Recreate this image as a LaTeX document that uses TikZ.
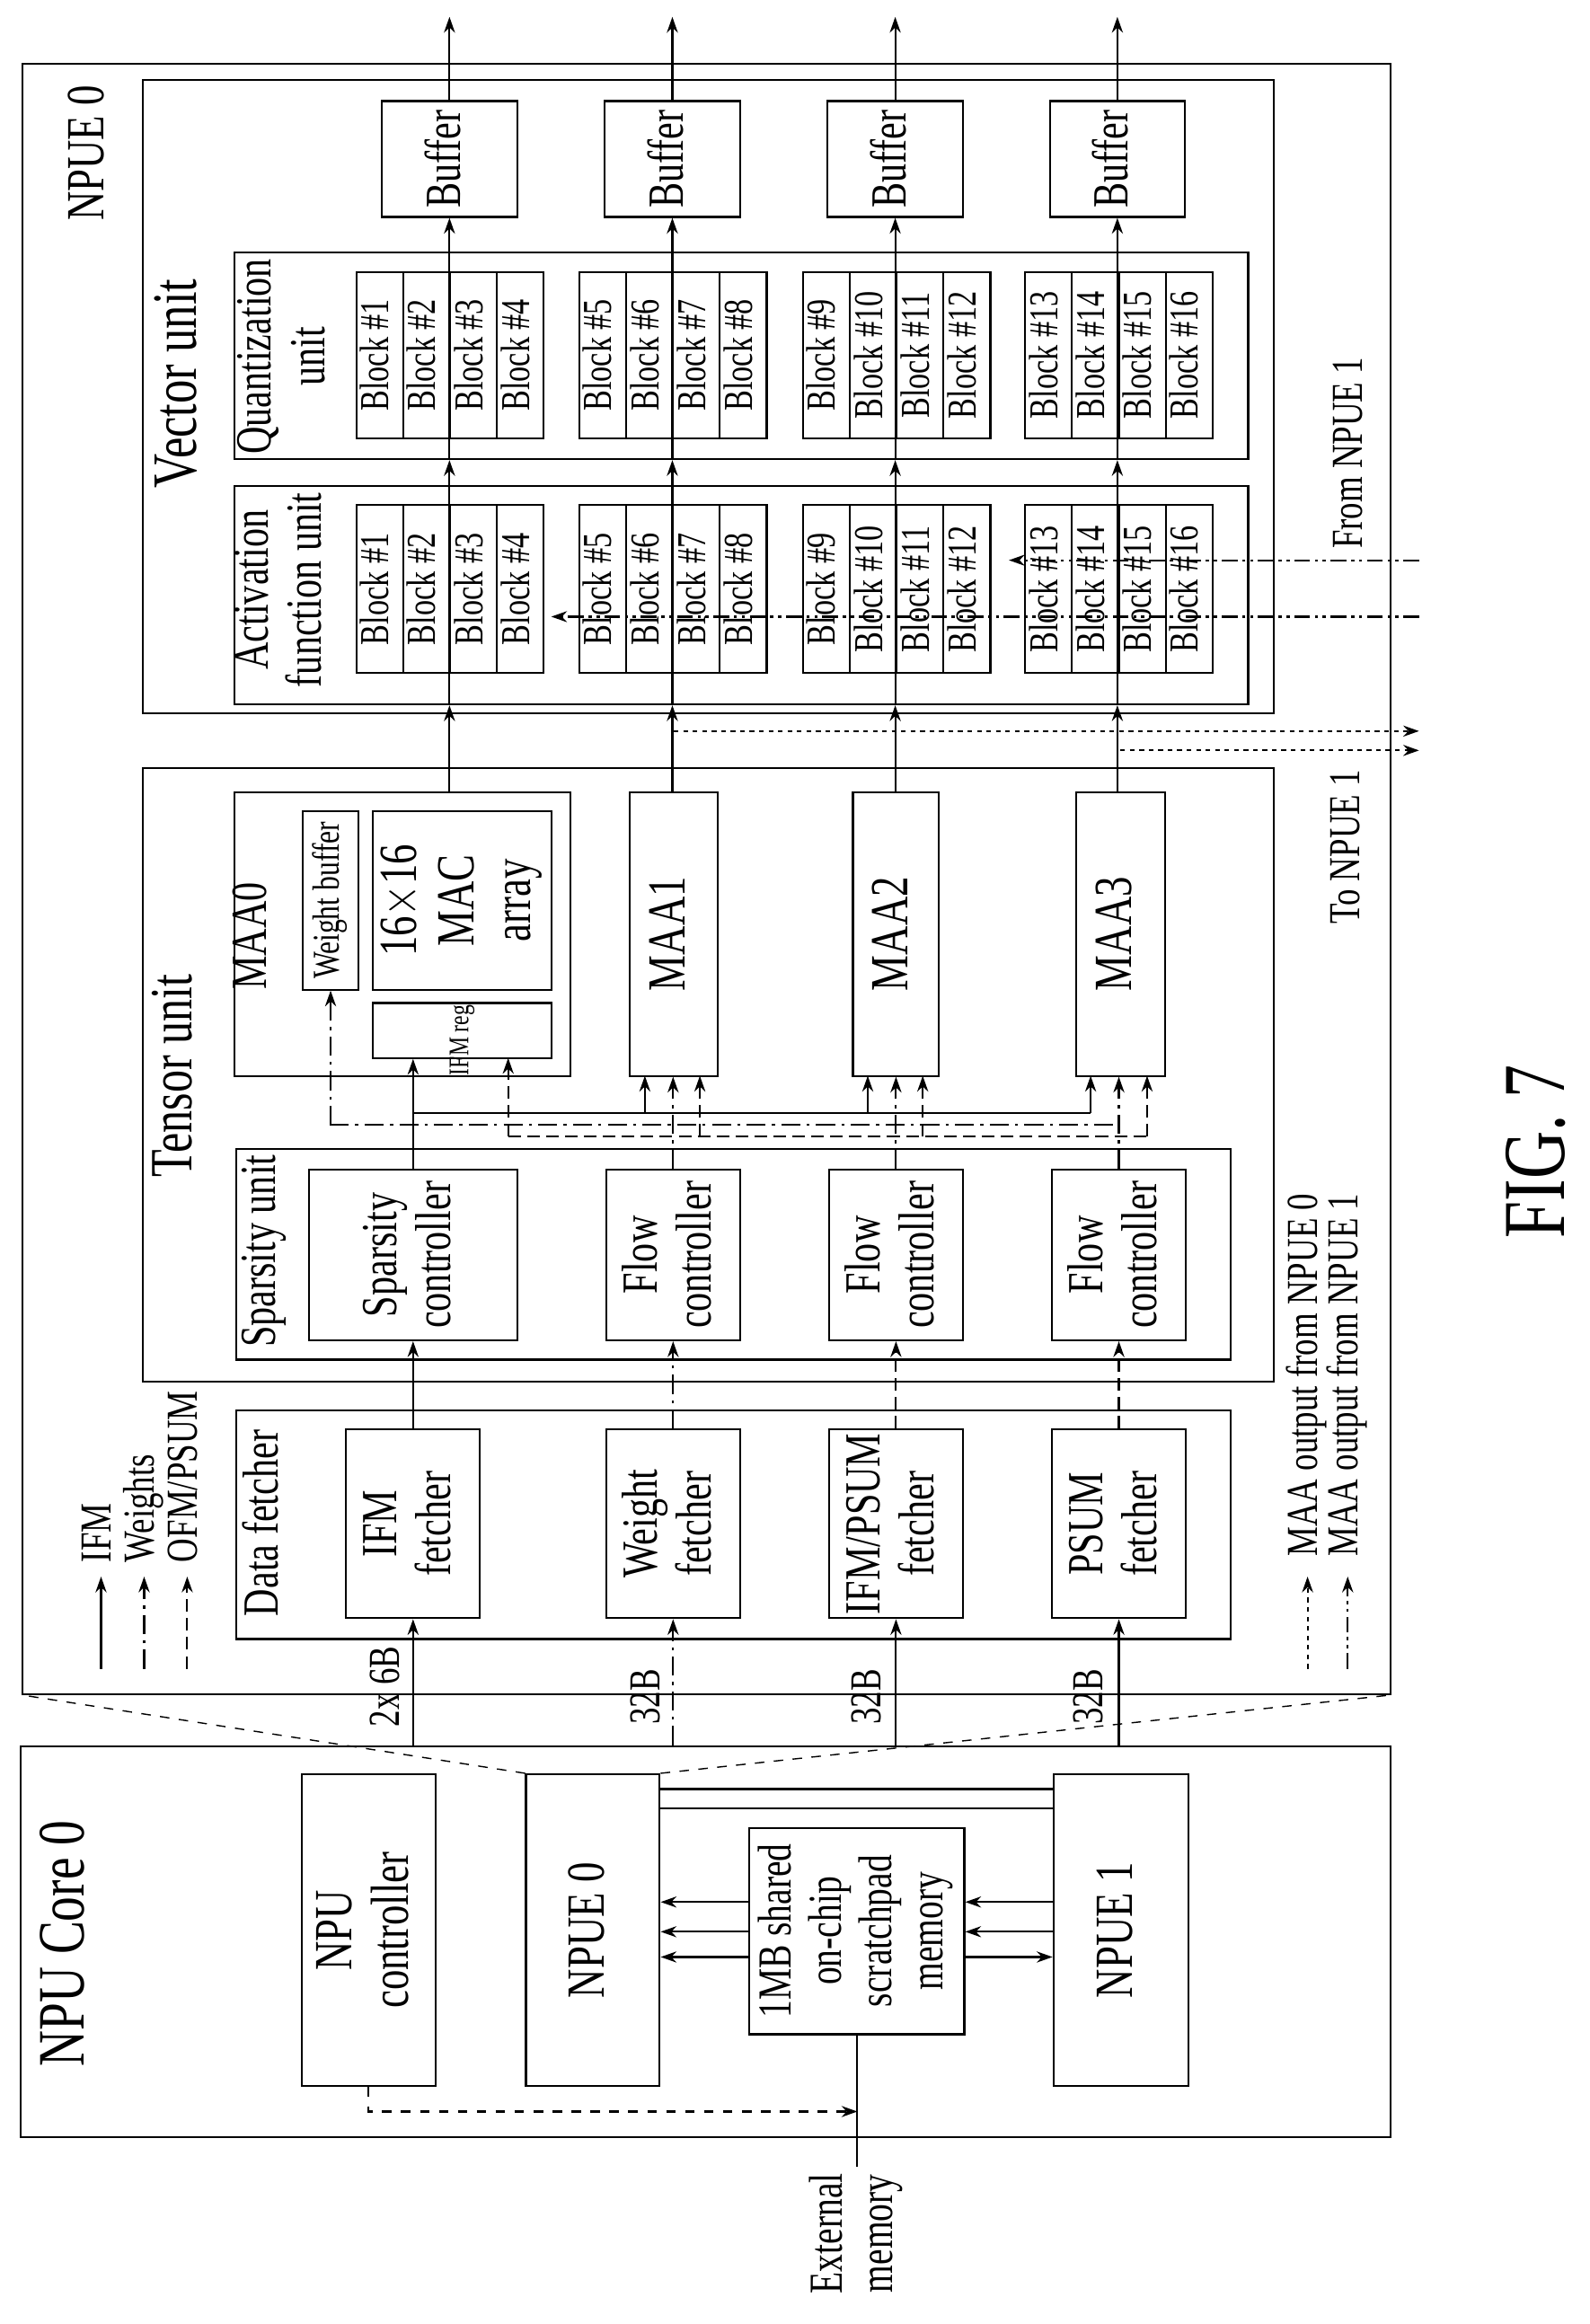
\documentclass[tikz,border=0pt]{standalone}
\usepackage{fontspec}
\setmainfont{Liberation Serif}
\usetikzlibrary{fit,arrows.meta}
% upright-reading text, rotated and narrowed like the drawing
\newcommand\vt[3]{\rotatebox{90}{\scalebox{0.75}[1]{\fontsize{#1}{#2}\selectfont\begin{tabular}{@{}c@{}}#3\end{tabular}}}}

\begin{document}
\begin{tikzpicture}[x=0.01654cm,y=-0.01654cm,line width=0.6pt,
  box/.style={draw,inner sep=0pt},
  lbl/.style={inner sep=0pt},
  txt/.style={label={[lbl]center:{#1}}},
  arr/.style={-{Stealth[length=5pt,width=3.5pt]}},
  wgt/.style={dash pattern=on 6pt off 2pt on 1pt off 2pt},
  ofm/.style={dash pattern=on 4pt off 2pt},
  out0/.style={dash pattern=on 1.5pt off 1.5pt},
  out1/.style={dash pattern=on 5pt off 1.5pt on 1pt off 1.5pt on 1pt off 1.5pt}]
\useasboundingbox (0,0) rectangle (1070,1564);

% NPUE 0 detail
\node[box,fit={(15,43)(936,1140)}] (npue) {};
\node[lbl] (npuelbl) at (62,103) {\vt{17}{19}{NPUE 0}};

% vector unit
\node[box,fit={(96,54)(857,480)}] (vec) {};
\node[lbl] (veclbl) at (123,258) {\vt{20}{22}{Vector unit}};
\node[box,fit={(158,170)(840,309)}] (quant) {};
\node[lbl] (quantlbl) at (193,240) {\vt{16}{17}{Quantization\\unit}};
\node[box,fit={(158,327)(840,474)}] (act) {};
\node[lbl] (actlbl) at (191,397) {\vt{16}{17}{Activation\\function unit}};
\foreach \c/\cx in {1/302.5,2/452.5,3/602.5,4/752}
  \node[box,fit={({\cx-45.5},68)({\cx+45.5},146)},txt={\vt{16}{17}{Buffer}}] (buf\c) {};
\foreach \g/\cx in {0/303,1/453,2/603.5,3/753} {
  \foreach \r in {1,...,4} {
    \pgfmathtruncatemacro\n{4*\g+\r}
    \node[box,fit={({\cx-63+(\r-1)*31.5},183)({\cx-63+\r*31.5},295)},txt={\vt{13}{14}{Block \#\n}}] (q\n) {};
    \node[box,fit={({\cx-63+(\r-1)*31.5},340)({\cx-63+\r*31.5},453)},txt={\vt{13}{14}{Block \#\n}}] (a\n) {};
  }
}

% tensor unit
\node[box,fit={(96,517)(857,930)}] (tens) {};
\node[lbl] (tenslbl) at (120,724) {\vt{19}{21}{Tensor unit}};
\node[box,fit={(158,533)(384,724)}] (maa0) {};
\node[lbl] (maa0lbl) at (172,630) {\vt{16}{17}{MAA0}};
\node[box,fit={(204,546)(241,666)},txt={\vt{12}{13}{Weight buffer}}] (wbuf) {};
\node[box,fit={(251,546)(371,666)},txt={\vt{17}{18}{16$\times$16\\MAC\\array}}] (mac) {};
\node[box,fit={(251,675)(371,712)}] (ireg) {};
\node[lbl] (ireglbl) at (311,700) {\vt{9}{10}{IFM reg}};
\node[box,fit={(424,533)(483,724)},txt={\vt{17}{18}{MAA1}}] (maa1) {};
\node[box,fit={(574,533)(632,724)},txt={\vt{17}{18}{MAA2}}] (maa2) {};
\node[box,fit={(724,533)(784,724)},txt={\vt{17}{18}{MAA3}}] (maa3) {};

% sparsity unit
\node[box,fit={(159,773)(828,915)}] (spu) {};
\node[lbl] (spulbl) at (178,842) {\vt{16}{17}{Sparsity unit}};
\node[box,fit={(208,787)(348,902)},txt={\vt{16}{17}{Sparsity\\controller}}] (spc) {};
\node[box,fit={(408,787)(498,902)},txt={\vt{16}{17}{Flow\\controller}}] (fc1) {};
\node[box,fit={(558,787)(648,902)},txt={\vt{16}{17}{Flow\\controller}}] (fc2) {};
\node[box,fit={(708,787)(798,902)},txt={\vt{16}{17}{Flow\\controller}}] (fc3) {};

% data fetcher
\node[box,fit={(159,949)(828,1103)}] (dfu) {};
\node[lbl] (dfulbl) at (180,1025) {\vt{16}{17}{Data fetcher}};
\node[box,fit={(233,962)(323,1089)},txt={\vt{16}{17}{IFM\\fetcher}}] (ifmf) {};
\node[box,fit={(408,962)(498,1089)},txt={\vt{16}{17}{Weight\\fetcher}}] (wf) {};
\node[box,fit={(558,962)(648,1089)},txt={\vt{16}{17}{IFM/PSUM\\fetcher}}] (ipf) {};
\node[box,fit={(708,962)(798,1089)},txt={\vt{16}{17}{PSUM\\fetcher}}] (pf) {};

% NPU core 0
\node[box,fit={(14,1175)(936,1438)}] (core) {};
\node[lbl] (corelbl) at (47,1308) {\vt{21}{23}{NPU Core 0}};
\node[box,fit={(203,1194)(293,1404)},txt={\vt{17}{18}{NPU\\controller}}] (npuc) {};
\node[box,fit={(354,1194)(444,1404)},txt={\vt{17}{18}{NPUE 0}}] (npue0s) {};
\node[box,fit={(504,1230)(649,1369)},txt={\vt{15}{16}{1MB shared\\on-chip\\scratchpad\\memory}}] (mem) {};
\node[box,fit={(709,1194)(800,1404)},txt={\vt{17}{18}{NPUE 1}}] (npue1s) {};
\coordinate (ext) at (577,1458);
\node[lbl,anchor=north] (extlbl) at (577,1462) {\vt{15}{16}{External\\memory}};

% vector unit paths
\foreach \c/\m in {1/maa0,2/maa1,3/maa2,4/maa3} {
  \draw[arr] (\m.north -| buf\c) -- (act.south -| buf\c);
  \draw[arr] (act.south -| buf\c) -- (quant.south -| buf\c);
  \draw[arr] (quant.south -| buf\c) -- (buf\c.south);
  \draw[arr] (buf\c.north) -- ++(0,-56);
}

% to and from NPUE 1
\draw[out0,arr] (maa1.north |- 0,492) -- (955,492);
\draw[out0,arr] (maa3.north |- 0,505) -- (955,505);
\draw[out1,arr] (955,377) -- (679,377);
\draw[out1,arr] (955,415) -- (371,415);
\node[lbl] (tolbl) at (908,570) {\vt{14}{16}{To NPUE 1}};
\node[lbl,anchor=south] (fromlbl) at (910,370) {\vt{14}{16}{From NPUE 1}};

% tensor buses
\draw[arr] (spc.north) -- (spc.north |- ireg.south);
\draw (spc.north |- 0,749) -- (734,749);
\foreach \x in {434,584,734}
  \draw[arr] (\x,749) -- (\x,724);
\draw[wgt] (222,757) -- (753,757);
\draw[wgt,arr] (wbuf.south |- 0,757) -- (wbuf.south);
\draw[wgt,arr] (fc1.north) -- (fc1.north |- maa1.south);
\draw[wgt,arr] (fc2.north) -- (fc2.north |- maa2.south);
\draw[wgt,arr] (fc3.north) -- (fc3.north |- maa3.south);
\draw[ofm] (342,765) -- (772,765);
\draw[ofm,arr] (342,765) -- (342,712);
\foreach \x in {471,621,772}
  \draw[ofm,arr] (\x,765) -- (\x,724);

% fetchers
\draw[arr] (ifmf.north) -- (spc.south);
\draw[wgt,arr] (wf.north) -- (fc1.south);
\draw[ofm,arr] (ipf.north) -- (fc2.south);
\draw[ofm,arr] (pf.north) -- (fc3.south);
\draw[arr] (ifmf.south |- core.north) -- (ifmf.south);
\draw[wgt,arr] (wf.south |- core.north) -- (wf.south);
\draw[arr] (ipf.south |- core.north) -- (ipf.south);
\draw[arr] (pf.south |- core.north) -- (pf.south);
\node[lbl] (bw1) at (262,1135) {\vt{14}{16}{2x 6B}};
\node[lbl] (bw2) at (437,1142) {\vt{14}{16}{32B}};
\node[lbl] (bw3) at (586,1142) {\vt{14}{16}{32B}};
\node[lbl] (bw4) at (735,1142) {\vt{14}{16}{32B}};

% legends
\draw[arr] (68,1123) -- (68,1061);
\draw[wgt,arr] (97,1123) -- (97,1061);
\draw[ofm,arr] (126,1123) -- (126,1061);
\node[lbl,anchor=south] (lgifm) at (68,1052) {\vt{14}{16}{IFM}};
\node[lbl,anchor=south] (lgw) at (97,1052) {\vt{14}{16}{Weights}};
\node[lbl,anchor=south] (lgofm) at (126,1052) {\vt{14}{16}{OFM/PSUM}};
\draw[out0,arr] (880,1123) -- (880,1061);
\draw[out1,arr] (907,1123) -- (907,1061);
\node[lbl,anchor=south] (lg0) at (880,1048) {\vt{14}{16}{MAA output from NPUE 0}};
\node[lbl,anchor=south] (lg1) at (907,1048) {\vt{14}{16}{MAA output from NPUE 1}};

% core links
\draw (npue0s.east |- 0,1204) -- (npue1s.west |- 0,1204);
\draw (npue0s.east |- 0,1217) -- (npue1s.west |- 0,1217);
\foreach \y in {1280,1300} {
  \draw[arr,{Stealth[length=5pt,width=3.5pt]}-] (npue0s.east |- 0,\y) -- (mem.west |- 0,\y);
  \draw[arr,{Stealth[length=5pt,width=3.5pt]}-] (mem.east |- 0,\y) -- (npue1s.west |- 0,\y);
}
\draw[arr] (mem.west |- 0,1317) -- (npue0s.east |- 0,1317);
\draw[arr] (mem.east |- 0,1317) -- (npue1s.west |- 0,1317);
\draw (mem.south -| ext) -- (ext);
\draw[dashed,arr] (npuc.south) -- (npuc.south |- 0,1421) -- (ext |- 0,1421);
\draw[dashed,line width=0.4pt] (npue0s.north west) -- (npue.south west);
\draw[dashed,line width=0.4pt] (npue0s.north east) -- (npue.south east);

\node[lbl] (fig) at (1040,775) {\vt{28}{30}{FIG. 7}};
\end{tikzpicture}
\end{document}
